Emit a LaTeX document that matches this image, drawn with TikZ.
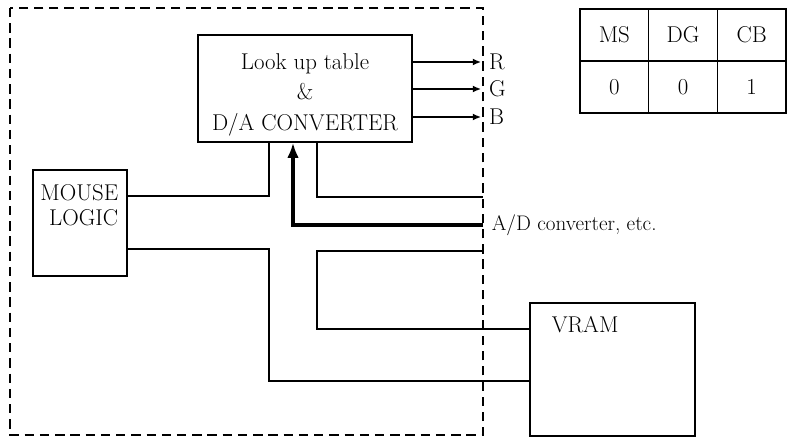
\documentclass[tikz,border=0pt]{standalone}
\usepackage{fontspec}
\usepackage{tikz}
\usetikzlibrary{positioning, arrows.meta, calc}
\tikzset{
  blk/.style={draw, line width=1.2pt, inner sep=0pt, align=center},
  cell/.style={draw, line width=1.2pt, minimum width=2.06cm, minimum height=1.56cm, inner sep=0pt},
  wire/.style={line width=1.2pt},
  bus/.style={line width=3.6pt, -{Latex[length=13pt, width=10pt]}},
  sig/.style={line width=1.2pt, -{Latex[length=7pt, width=6pt]}},
  frame/.style={line width=1.3pt, dash pattern=on 8pt off 5pt},
  lbl/.style={inner sep=2pt},
}
\begin{document}
\begin{tikzpicture}[x=0.03cm, y=-0.03cm, font=\fontsize{19.5}{26}\selectfont]
  \useasboundingbox (0,0) rectangle (788,437);
  % dashed board outline
  \draw[frame] (10,8) rectangle (483,435);
  % blocks
  \node[blk, minimum width=6.42cm, minimum height=3.21cm] (lut) at (305,88.5) {};
  \node[lbl, align=center] at ($(lut.center)+(0,6)$) {Look up table\\\&\\D/A CONVERTER};
  \node[blk, minimum width=2.82cm, minimum height=3.18cm] (mouse) at (80,223) {};
  \node[lbl, anchor=north east, align=right, font=\fontsize{19.5}{21}\selectfont]
    at ($(mouse.north east)+(-7,13)$) {MOUSE\\LOGIC};
  \node[blk, minimum width=4.95cm, minimum height=3.99cm] (vram) at (612.5,369.5) {};
  \node[lbl, anchor=north west] at ($(vram.north west)+(20,11)$) {VRAM};
  % mode table
  \foreach \h/\v [count=\i] in {MS/0, DG/0, CB/1} {
    \node[cell] (h\i) at ({580+68.67*(\i-0.5)},35) {\h};
    \node[cell] (v\i) at ({580+68.67*(\i-0.5)},87) {\v};
  }
  % pins
  \coordinate (lA) at ($(lut.south)+(-36,0)$);
  \coordinate (lD) at ($(lut.south)+(-12,0)$);
  \coordinate (lB) at ($(lut.south)+(12,0)$);
  \coordinate (mA) at ($(mouse.east)+(0,-27)$);
  \coordinate (mB) at ($(mouse.east)+(0,26)$);
  \coordinate (vA) at ($(vram.west)+(0,-40.5)$);
  \coordinate (vB) at ($(vram.west)+(0,11.5)$);
  \coordinate (outR) at (481,62);
  \coordinate (outG) at (481,89);
  \coordinate (outB) at (481,117);
  \coordinate (p1) at (483,197);
  \coordinate (ad) at (483,225);
  \coordinate (p2) at (483,251);
  % RGB outputs
  \draw[sig] (lut.east |- outR) -- (outR) node[right=3pt] {R};
  \draw[sig] (lut.east |- outG) -- (outG) node[right=3pt] {G};
  \draw[sig] (lut.east |- outB) -- (outB) node[right=3pt] {B};
  % connections
  \draw[wire] (mA) -| (lA);
  \draw[wire] (lB) |- (p1);
  \draw[bus] (ad) -| (lD);
  \node[right=4pt, font=\fontsize{18}{22}\selectfont] at (ad) {A/D converter, etc.};
  \draw[wire] (p2) -| (lB |- vA) -- (vA);
  \draw[wire] (mB) -| (lA |- vB) -- (vB);
\end{tikzpicture}
\end{document}
